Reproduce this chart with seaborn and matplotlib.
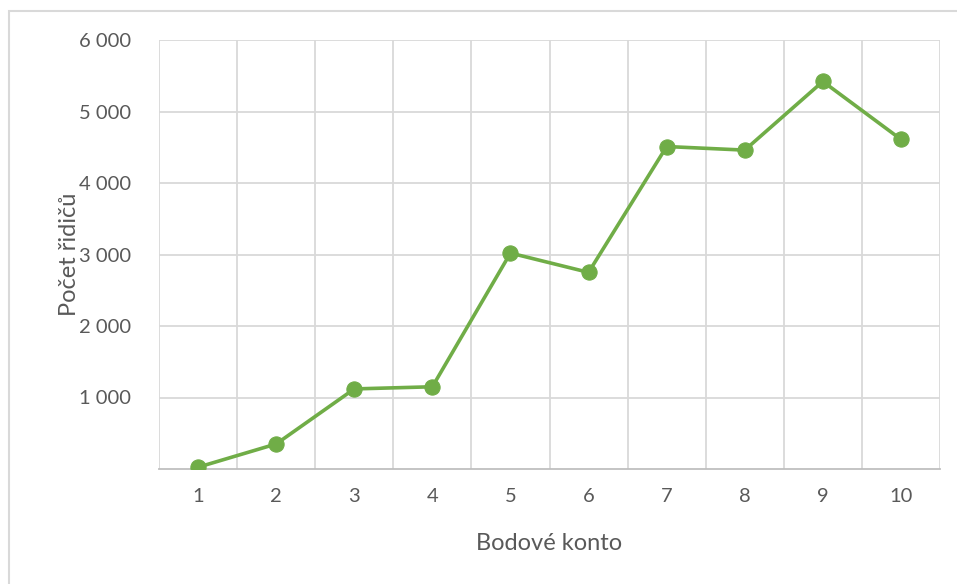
import matplotlib
matplotlib.use("Agg")
import matplotlib.pyplot as plt
from matplotlib.patches import Rectangle
from matplotlib.ticker import FuncFormatter, FixedLocator
import seaborn as sns
import pandas as pd

# data
body = ["1", "2", "3", "4", "5", "6", "7", "8", "9", "10"]
ridici = [25, 350, 1120, 1150, 3020, 2750, 4510, 4460, 5420, 4610]

df = pd.DataFrame({"pos": range(len(body)), "ridici": ridici})

sns.set_theme(style="white")
plt.rcParams["font.family"] = ["Lato", "DejaVu Sans"]

W, H = 957, 584
fig = plt.figure(figsize=(W / 100, H / 100), dpi=100)
ax = fig.add_axes([159 / W, (H - 469) / H, 781 / W, 429 / H])

# chart frame (cropped on the right and bottom like the reference)
fig.patches.append(Rectangle((9 / W, -0.1), 1.2, (H - 11) / H + 0.1,
                             transform=fig.transFigure, fill=False,
                             edgecolor="#D9D9D9", linewidth=1.5))

sns.lineplot(data=df, x="pos", y="ridici", ax=ax, color="#70AD47",
             linewidth=2.6, marker="o", markersize=11,
             markeredgecolor="#70AD47", zorder=3)

ax.set_xlim(-0.5, len(body) - 0.5)
ax.set_ylim(0, 6000)
ax.set_xticks(range(len(body)))
ax.set_xticklabels(body)
ax.xaxis.set_minor_locator(FixedLocator([i - 0.5 for i in range(len(body) + 1)]))
ax.set_yticks([1000, 2000, 3000, 4000, 5000, 6000])
ax.yaxis.set_major_formatter(FuncFormatter(lambda v, p: f"{int(v):,}".replace(",", " ")))

ax.grid(False)
ax.grid(axis="y", which="major", color="#D9D9D9", linewidth=1.3)
ax.grid(axis="x", which="minor", color="#D9D9D9", linewidth=1.3)
ax.set_axisbelow(True)

for s in ["top", "right", "left"]:
    ax.spines[s].set_visible(False)
ax.spines["bottom"].set_color("#BFBFBF")
ax.spines["bottom"].set_linewidth(1.3)

ax.tick_params(axis="both", which="both", length=0, labelsize=14.5,
               labelcolor="#595959")
ax.tick_params(axis="x", pad=14)
ax.tick_params(axis="y", pad=20)

ax.set_xlabel("Bodové konto", fontsize=17, color="#595959", labelpad=20)
ax.set_ylabel("Počet řidičů", fontsize=17, color="#595959", labelpad=-1)

fig.savefig("out.png", dpi=100)
